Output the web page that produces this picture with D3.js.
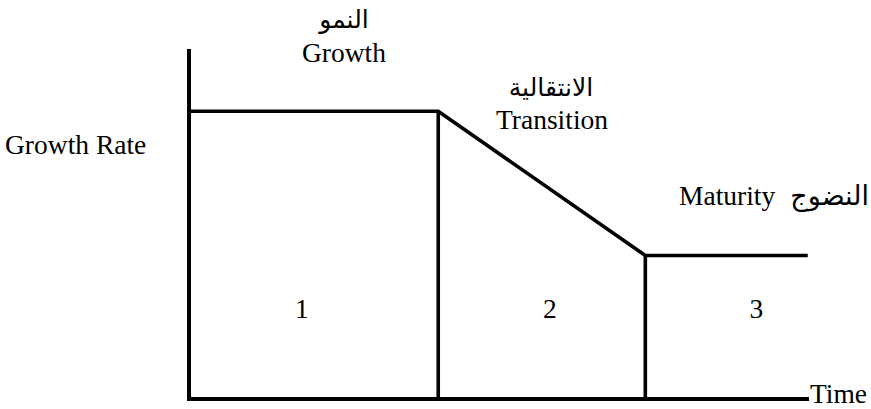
<!DOCTYPE html>
<html>
<head>
<meta charset="utf-8">
<script src="https://cdn.jsdelivr.net/npm/d3@7"></script>
<style>
  body { margin: 0; background: #fff; }
</style>
</head>
<body>
<svg></svg>
<script>
const width = 871
const height = 409

// growth curve (time, growth rate)
const time = [0, 4.02, 7.36, 9.98]
const rate = [8.22, 8.22, 4.1, 4.1]
// phase boundaries on the time axis
const boundaries = [4.02, 7.36]
// stage numbers and where they sit on time axis
const stages = ["1", "2", "3"]
const stageTime = [1.82, 5.82, 9.15]
// phase titles
const phaseAr = ["النمو", "الانتقالية", "النضوج"]
const phaseEn = ["Growth", "Transition", "Maturity"]

const serif = "'Liberation Serif', 'Times New Roman', Times, serif"
const arabic = "'DejaVu Sans', 'Liberation Serif', sans-serif"

let svg = d3.select("svg")
    .attr("width", width)
    .attr("height", height)

let x = d3.scaleLinear().domain([0, 10]).range([189, 809])
let y = d3.scaleLinear().domain([0, 10]).range([399, 49])

const stroke = 3.6

// axes (plain lines, no ticks)
svg.append("line")
    .attr("x1", x(0)).attr("x2", x(0))
    .attr("y1", y(0) + 2).attr("y2", y(10))
    .attr("stroke", "black").attr("stroke-width", 4)
svg.append("line")
    .attr("x1", x(0)).attr("x2", x(10))
    .attr("y1", y(0)).attr("y2", y(0))
    .attr("stroke", "black").attr("stroke-width", 4)

// curve
let line = d3.line()
    .x(function(d, i) { return x(time[i]) })
    .y(function(d) { return y(d) })
svg.append("path")
    .datum(rate)
    .attr("d", line)
    .attr("fill", "none")
    .attr("stroke", "black")
    .attr("stroke-width", stroke)
    .attr("stroke-linejoin", "miter")

// phase separators
svg.selectAll(".sep")
    .data(boundaries)
    .enter()
    .append("line")
    .attr("class", "sep")
    .attr("x1", function(d) { return x(d) })
    .attr("x2", function(d) { return x(d) })
    .attr("y1", function(d) { return y(rate[time.indexOf(d)]) })
    .attr("y2", y(0))
    .attr("stroke", "black")
    .attr("stroke-width", stroke)

function label(tx, ty, txt, opts) {
    opts = opts || {}
    return svg.append("text")
        .attr("x", tx).attr("y", ty)
        .attr("text-anchor", opts.anchor || "start")
        .attr("font-family", opts.ar ? arabic : serif)
        .attr("font-size", opts.size || 27.5)
        .attr("fill", "black")
        .text(txt)
}

// stage numbers
svg.selectAll(".stage")
    .data(stages)
    .enter()
    .append("text")
    .attr("class", "stage")
    .attr("x", function(d, i) { return x(stageTime[i]) })
    .attr("y", 318)
    .attr("text-anchor", "middle")
    .attr("font-family", serif)
    .attr("font-size", 27.5)
    .text(function(d) { return d })

// axis titles
label(5, 154, "Growth Rate")
label(x(10) + 1, 403, "Time")

// phase titles
label(344, 28, phaseAr[0], {anchor: "middle", ar: true, size: 25})
label(344, 62, phaseEn[0], {anchor: "middle"})
label(551, 96, phaseAr[1], {anchor: "middle", ar: true, size: 25})
label(552, 129, phaseEn[1], {anchor: "middle"})
label(679, 205, phaseEn[2])
label(869, 205, phaseAr[2], {anchor: "end", ar: true, size: 27})
</script>
</body>
</html>
